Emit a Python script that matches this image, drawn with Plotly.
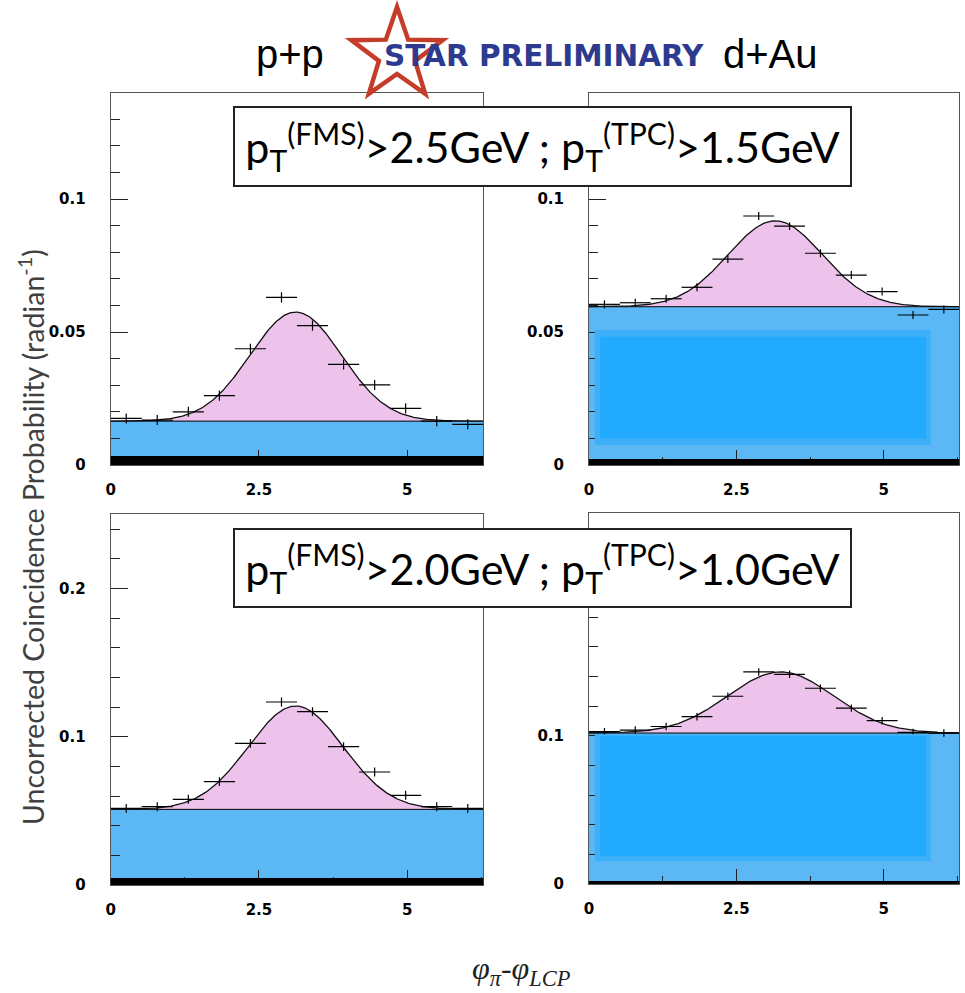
import numpy as np
import plotly.graph_objects as go

W, H = 965, 993

# ---------------------------------------------------------------- data
# azimuthal bin centres (12 bins over 0..2pi) and half bin width
phi_centres = [0.262, 0.785, 1.309, 1.833, 2.356, 2.880, 3.403, 3.927, 4.451, 4.974, 5.498, 6.021]
bin_half_width = 0.262

# coincidence probability per bin, high-pT selection
pp_high = [0.0175, 0.0169, 0.0200, 0.0261, 0.0437, 0.0630, 0.0524, 0.0378, 0.0301, 0.0213, 0.0165, 0.0153]
pp_high_err = [0.0019] * 12
dau_high = [0.0604, 0.0610, 0.0625, 0.0668, 0.0774, 0.0936, 0.0898, 0.0796, 0.0714, 0.0652, 0.0564, 0.0585]
dau_high_err = [0.0015] * 12

# coincidence probability per bin, low-pT selection
pp_low = [0.0517, 0.0528, 0.0578, 0.0697, 0.0955, 0.1234, 0.1169, 0.0933, 0.0762, 0.0605, 0.0528, 0.0517]
pp_low_err = [0.0030] * 12
dau_low = [0.1027, 0.1038, 0.1062, 0.1128, 0.1266, 0.1430, 0.1414, 0.1320, 0.1186, 0.1101, 0.1022, 0.1018]
dau_low_err = [0.0025] * 12

# pedestal + gaussian fit parameters, panel order: pp high, dAu high, pp low, dAu low
fit_pedestal = [0.0165, 0.0595, 0.0510, 0.1018]
fit_amplitude = [0.0410, 0.0323, 0.0697, 0.0412]
fit_mean = [3.12, 3.16, 3.12, 3.25]
fit_sigma = [0.77, 0.80, 0.80, 0.90]

selection_labels = [
    "p<sub>T</sub><sup>(FMS)</sup>&gt;2.5GeV ; p<sub>T</sub><sup>(TPC)</sup>&gt;1.5GeV",
    "p<sub>T</sub><sup>(FMS)</sup>&gt;2.0GeV ; p<sub>T</sub><sup>(TPC)</sup>&gt;1.0GeV",
]

# ---------------------------------------------------------------- styling
BLUE = "#5BB8F5"
BLUE_MID = "#3DB0F9"
BLUE_DEEP = "#22AAFE"
PINK = "#EDC3EB"
TWO_PI = 2 * np.pi


def px_x(p):
    return p / W


def px_y(p):
    return 1 - p / H


# panel geometry in pixels: left/right edges, y of zero, pixels per unit y
panels = [
    dict(vals=pp_high, errs=pp_high_err, l=110.7, r=483.3, y0=465, ymax=0.14, ppu=2660, dtick=0.05, minor=0.01, band=9),
    dict(vals=dau_high, errs=dau_high_err, l=589.0, r=959.3, y0=465, ymax=0.14, ppu=2660, dtick=0.05, minor=0.01, band=6),
    dict(vals=pp_low, errs=pp_low_err, l=110.7, r=483.3, y0=885, ymax=0.25, ppu=1483, dtick=0.1, minor=0.02, band=7),
    dict(vals=dau_low, errs=dau_low_err, l=589.0, r=959.3, y0=884, ymax=0.25, ppu=1483, dtick=0.1, minor=0.02, band=3),
]

# deeper blue shading inside the dAu pedestal: (x0, x1, y0, y1) outer then inner
dau_shading = {
    1: [(0.10, 5.80, 0.0075, 0.0508), (0.19, 5.72, 0.0100, 0.0482)],
    3: [(0.10, 5.80, 0.0154, 0.1010), (0.19, 5.72, 0.0188, 0.0998)],
}

fig = go.Figure()
layout = dict(
    width=W, height=H, autosize=False,
    margin=dict(l=0, r=0, t=0, b=0, pad=0),
    paper_bgcolor="white", plot_bgcolor="white",
    showlegend=False,
)
shapes = []
annotations = []

tick_font = dict(family="DejaVu Sans", size=15, color="black", weight="bold")
phi_grid = np.linspace(0, TWO_PI, 500)

for i, p in enumerate(panels):
    n = "" if i == 0 else str(i + 1)
    xa, ya = "x" + n, "y" + n
    y_top = p["y0"] - p["ymax"] * p["ppu"]

    layout["xaxis" + n] = dict(
        domain=[px_x(p["l"]), px_x(p["r"])], anchor=ya, range=[0, TWO_PI], automargin=False,
        tickmode="linear", tick0=0, dtick=2.5, ticks="inside", ticklen=15,
        tickcolor="#222", tickwidth=1,
        minor=dict(tickmode="linear", tick0=0, dtick=1.25, ticks="inside", ticklen=8, tickcolor="#222"),
        showline=True, mirror=True, linecolor="#555", linewidth=1,
        showgrid=False, zeroline=False, tickfont=tick_font, ticklabelstandoff=11,
    )
    layout["yaxis" + n] = dict(
        domain=[px_y(p["y0"]), px_y(y_top)], anchor=xa, range=[0, p["ymax"]], automargin=False,
        tickmode="linear", tick0=0, dtick=p["dtick"], ticks="inside", ticklen=17,
        tickcolor="#222", tickwidth=1,
        minor=dict(tickmode="linear", tick0=0, dtick=p["minor"], ticks="inside", ticklen=9, tickcolor="#222"),
        showline=True, mirror=True, linecolor="#555", linewidth=1,
        showgrid=False, zeroline=False, tickfont=tick_font, ticklabelstandoff=21,
    )

    ped = fit_pedestal[i]
    # flat pedestal filled down to zero
    fig.add_trace(go.Scatter(
        x=[0, TWO_PI], y=[ped, ped], xaxis=xa, yaxis=ya, mode="lines",
        line=dict(color="black", width=1), fill="tozeroy", fillcolor=BLUE,
        hoverinfo="skip",
    ))
    # pedestal + gaussian fit, correlated part filled above the pedestal
    fit_curve = ped + fit_amplitude[i] * np.exp(-0.5 * ((phi_grid - fit_mean[i]) / fit_sigma[i]) ** 2)
    fig.add_trace(go.Scatter(
        x=phi_grid, y=fit_curve, xaxis=xa, yaxis=ya, mode="lines",
        line=dict(color="#111", width=1.3), fill="tonexty", fillcolor=PINK,
        hoverinfo="skip",
    ))
    # measured points with bin-width and statistical error bars
    fig.add_trace(go.Scatter(
        x=phi_centres, y=p["vals"], xaxis=xa, yaxis=ya, mode="markers",
        marker=dict(size=2, color="rgba(0,0,0,0)", line=dict(width=0)),
        error_x=dict(type="constant", value=bin_half_width, width=0, thickness=1.2, color="black"),
        error_y=dict(type="data", array=p["errs"], width=0, thickness=1.2, color="black"),
    ))

    for k, (x0, x1, y0, y1) in enumerate(dau_shading.get(i, [])):
        shapes.append(dict(
            type="rect", xref=xa, yref=ya, x0=x0, x1=x1, y0=y0, y1=y1,
            fillcolor=BLUE_MID if k == 0 else BLUE_DEEP, line=dict(width=0), layer="above",
        ))

    # thick black bottom edge
    span = p["y0"] - y_top
    shapes.append(dict(
        type="rect", xref=xa + " domain", yref=ya + " domain",
        x0=0, x1=1, y0=0, y1=p["band"] / span,
        fillcolor="black", line=dict(width=0), layer="above",
    ))


# STAR logo star outline
def star_path(cx, cy, r_out, r_in):
    pts = []
    for k in range(10):
        ang = np.deg2rad(-90 + 36 * k)
        r = r_out if k % 2 == 0 else r_in
        pts.append((px_x(cx + r * np.cos(ang)), px_y(cy + r * np.sin(ang))))
    return "M " + " L ".join(f"{x:.5f},{y:.5f}" for x, y in pts) + " Z"


shapes.append(dict(
    type="path", xref="paper", yref="paper", path=star_path(397, 55, 48, 19),
    fillcolor="white", line=dict(color="#C53D2A", width=4.5), layer="above",
))

# header
annotations += [
    dict(text="p+p", x=px_x(290), y=px_y(54), xref="paper", yref="paper", showarrow=False,
         xanchor="center", yanchor="middle", font=dict(family="Liberation Sans", size=40, color="black")),
    dict(text="d+Au", x=px_x(770), y=px_y(54), xref="paper", yref="paper", showarrow=False,
         xanchor="center", yanchor="middle", font=dict(family="Liberation Sans", size=40, color="black")),
    dict(text="STAR PRELIMINARY", x=px_x(544), y=px_y(56), xref="paper", yref="paper", showarrow=False,
         xanchor="center", yanchor="middle",
         font=dict(family="DejaVu Sans", size=29.5, color="#2C3B8F", weight="bold")),
]

# selection boxes
for label, cy, hgt in zip(selection_labels, [146.7, 568.3], [77, 76]):
    annotations.append(dict(
        text=label, x=px_x(542.8), y=px_y(cy), xref="paper", yref="paper", showarrow=False,
        xanchor="center", yanchor="middle", width=615, height=hgt, align="center", valign="middle",
        bgcolor="white", bordercolor="#222", borderwidth=2, borderpad=0,
        font=dict(family="Lato", size=43, color="black"),
    ))

# axis titles
annotations += [
    dict(text="Uncorrected Coincidence Probability (radian<sup>-1</sup>)", x=px_x(31), y=px_y(537),
         xref="paper", yref="paper", showarrow=False, textangle=-90, xanchor="center", yanchor="middle",
         font=dict(family="Lato", size=28.5, color="#404040")),
    dict(text="<i>φ</i><sub><i>π</i></sub>-<i>φ</i><sub><i>LCP</i></sub>", x=px_x(521), y=px_y(970),
         xref="paper", yref="paper", showarrow=False, xanchor="center", yanchor="middle",
         font=dict(family="Liberation Serif", size=32, color="#222")),
]

layout["shapes"] = shapes
layout["annotations"] = annotations
fig.update_layout(**layout)

fig.write_html("out.html")
